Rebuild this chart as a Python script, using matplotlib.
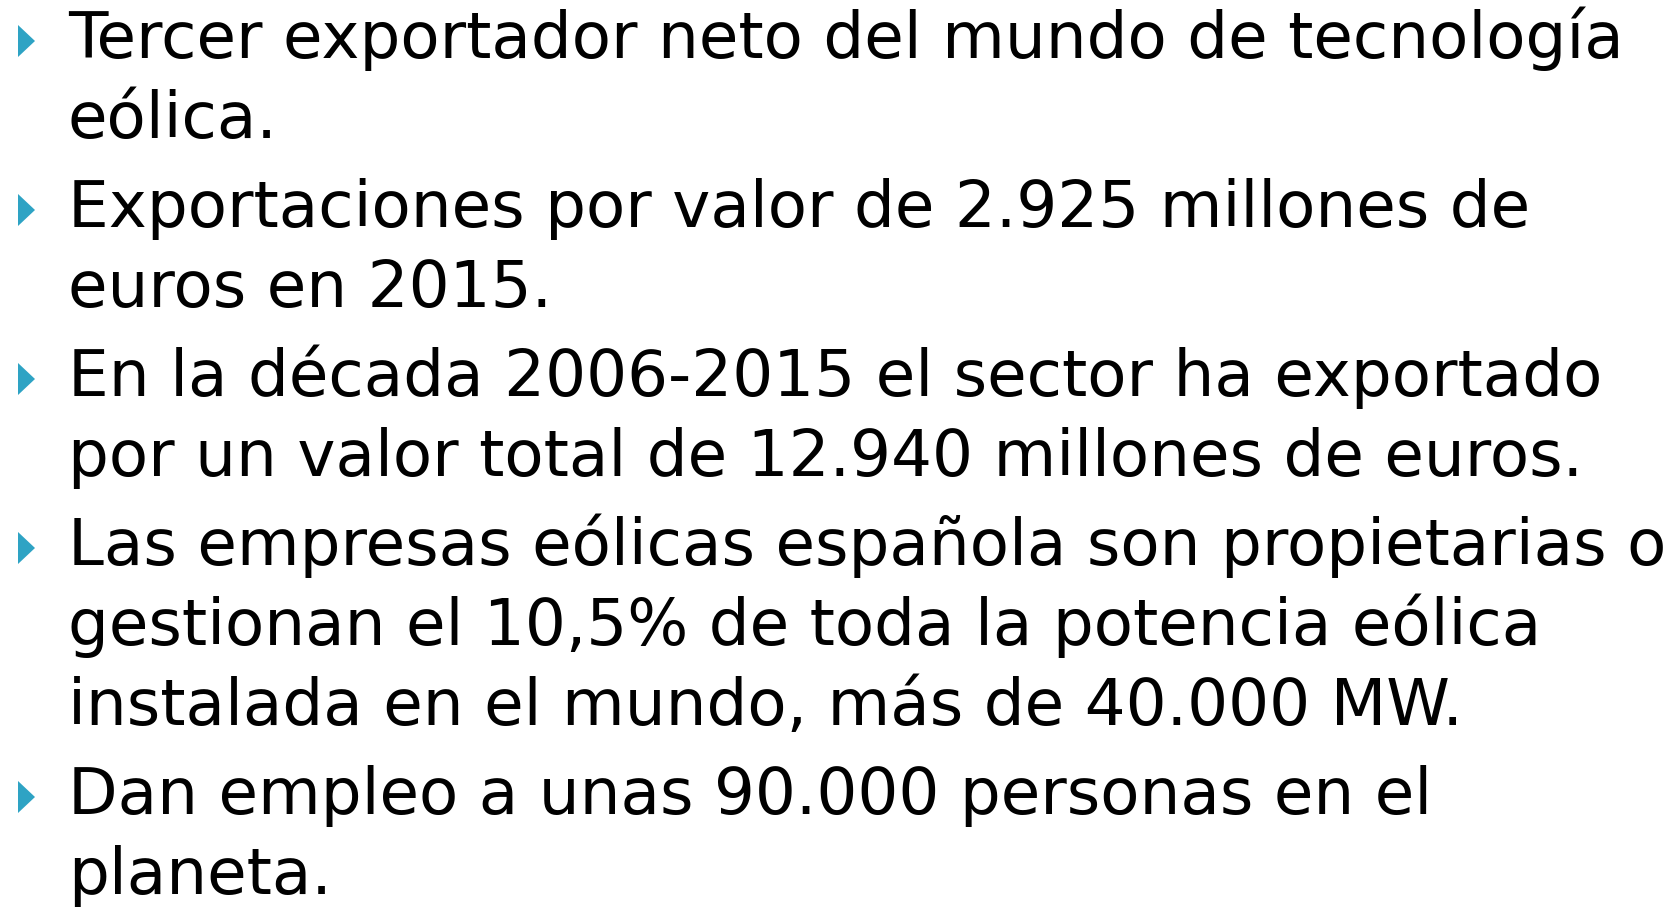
import matplotlib
matplotlib.use("Agg")
import matplotlib.pyplot as plt
from matplotlib.patches import Polygon

W, H = 1681, 911

# slide bullets, already wrapped as in the reference
bullets = [
    ["Tercer exportador neto del mundo de tecnología", "eólica."],
    ["Exportaciones por valor de 2.925 millones de", "euros en 2015."],
    ["En la década 2006-2015 el sector ha exportado",
     "por un valor total de 12.940 millones de euros."],
    ["Las empresas eólicas española son propietarias o",
     "gestionan el 10,5% de toda la potencia eólica",
     "instalada en el mundo, más de 40.000 MW."],
    ["Dan empleo a unas 90.000 personas en el", "planeta."],
]

BULLET_COLOR = "#2ea3c4"
TEXT_X = 68
FIRST_BASELINE = 58
LINE_STEP = 80
PARA_GAP = 9
FONT_PX = 64.4

fig = plt.figure(figsize=(W / 100, H / 100), dpi=100)
ax = fig.add_axes([0, 0, 1, 1])
ax.set_xlim(0, W)
ax.set_ylim(H, 0)
ax.axis("off")

y = FIRST_BASELINE
for lines in bullets:
    # triangle bullet sitting on the first line's baseline
    tri = Polygon([(18, y - 33), (18, y - 1), (35, y - 17)], closed=True,
                  facecolor=BULLET_COLOR, edgecolor="none")
    ax.add_patch(tri)
    for line in lines:
        ax.text(TEXT_X, y, line, fontsize=FONT_PX * 72 / 100,
                family="DejaVu Sans", va="baseline", ha="left", color="black")
        y += LINE_STEP
    y += PARA_GAP

fig.savefig("out.png", dpi=100)
